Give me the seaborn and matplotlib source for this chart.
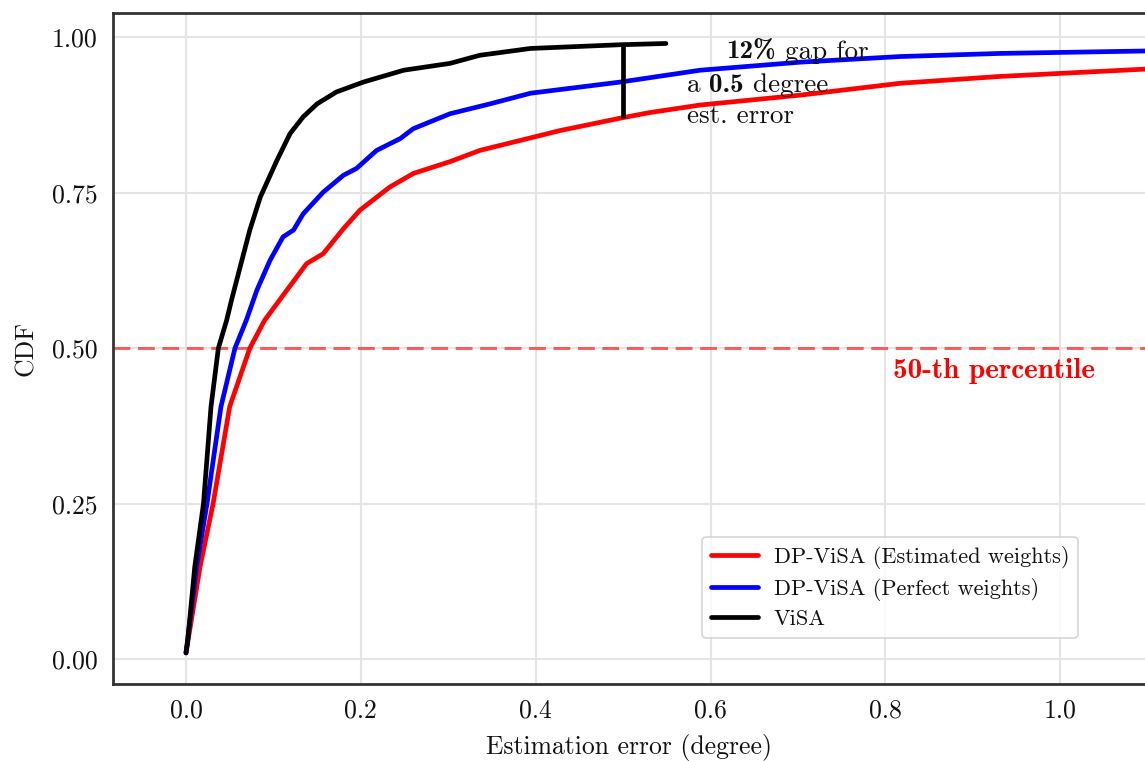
import numpy as np
import pandas as pd
import matplotlib
matplotlib.use("Agg")
import matplotlib.pyplot as plt
from matplotlib.transforms import offset_copy
import seaborn as sns

# ---- data ----
visa_x = [0.0, 0.002, 0.010, 0.020, 0.0286, 0.037, 0.0465, 0.052, 0.062, 0.073, 0.085,
          0.104, 0.119, 0.134, 0.150, 0.172, 0.203, 0.249, 0.302, 0.336, 0.394, 0.497, 0.549]
visa_y = [0.01, 0.03, 0.148, 0.25, 0.406, 0.50, 0.545, 0.577, 0.631, 0.690, 0.743,
          0.802, 0.845, 0.872, 0.893, 0.912, 0.928, 0.947, 0.958, 0.971, 0.982, 0.988, 0.990]

perf_x = [0.0, 0.012, 0.024, 0.040, 0.056, 0.069, 0.077, 0.081, 0.096, 0.111, 0.123, 0.134,
          0.157, 0.180, 0.195, 0.218, 0.245, 0.260, 0.302, 0.348, 0.394, 0.497, 0.588,
          0.703, 0.817, 0.931, 1.10]
perf_y = [0.01, 0.148, 0.25, 0.406, 0.50, 0.545, 0.577, 0.593, 0.641, 0.679, 0.690, 0.716,
          0.751, 0.778, 0.789, 0.818, 0.837, 0.853, 0.877, 0.893, 0.910, 0.928, 0.947,
          0.960, 0.969, 0.974, 0.978]

est_x = [0.0, 0.016, 0.031, 0.050, 0.073, 0.090, 0.111, 0.138, 0.157, 0.180, 0.199, 0.233,
         0.260, 0.302, 0.336, 0.428, 0.497, 0.531, 0.588, 0.703, 0.817, 0.931, 1.10]
est_y = [0.01, 0.148, 0.25, 0.406, 0.50, 0.545, 0.585, 0.636, 0.652, 0.692, 0.722, 0.759,
         0.781, 0.800, 0.818, 0.850, 0.870, 0.879, 0.891, 0.907, 0.926, 0.937, 0.949]

labels = ["DP-ViSA (Estimated weights)", "DP-ViSA (Perfect weights)", "ViSA"]
colors = ["red", "blue", "black"]
xticks = [0.0, 0.2, 0.4, 0.6, 0.8, 1.0]
yticks = [0.0, 0.25, 0.5, 0.75, 1.0]
gap_x = 0.5
gap_lo, gap_hi = 0.870, 0.988
percentile = 0.5

df = pd.concat([
    pd.DataFrame({"x": est_x, "cdf": est_y, "method": labels[0]}),
    pd.DataFrame({"x": perf_x, "cdf": perf_y, "method": labels[1]}),
    pd.DataFrame({"x": visa_x, "cdf": visa_y, "method": labels[2]}),
], ignore_index=True)

sns.set_style("white")
plt.rcParams["font.family"] = ["cmr10", "DejaVu Serif"]
plt.rcParams["mathtext.fontset"] = "cm"
plt.rcParams["axes.formatter.use_mathtext"] = True
plt.rcParams["axes.unicode_minus"] = False
plt.rcParams["text.color"] = "#111111"
plt.rcParams["axes.labelcolor"] = "#111111"
plt.rcParams["xtick.color"] = "#111111"
plt.rcParams["ytick.color"] = "#111111"

RM = ["cmr10", "DejaVu Serif"]
BF = ["cmb10", "DejaVu Serif"]

fig = plt.figure(figsize=(11.45, 7.61), dpi=100)
ax = fig.add_axes([0.0987, 0.1012, 0.9013, 0.8817])

sns.lineplot(data=df, x="x", y="cdf", hue="method", hue_order=labels,
             palette=dict(zip(labels, colors)), sort=False, estimator=None,
             linewidth=3.4, ax=ax)

ax.axhline(percentile, color="red", alpha=0.6, linestyle=(0, (5.5, 2.5)), linewidth=2.2, zorder=1)
ax.vlines(gap_x, gap_lo, gap_hi, color="black", linewidth=3.4)

renderer = fig.canvas.get_renderer()


def rich_line(x, y, parts, size):
    """Draw a line of text made of (string, family) parts placed side by side."""
    trans = ax.transData
    for s, fam in parts:
        t = ax.text(x, y, s, fontsize=size, va="baseline", ha="left",
                    family=fam, transform=trans)
        t.draw(renderer)
        ext = t.get_window_extent(renderer)
        trans = offset_copy(trans, fig=fig, x=ext.width * 72 / fig.dpi, y=0, units="points")


rich_line(0.618, 0.965, [("12%", BF), (" gap for", RM)], 19.5)
rich_line(0.573, 0.912, [("a ", RM), ("0.5", BF), (" degree", RM)], 19.5)
rich_line(0.573, 0.862, [("est. error", RM)], 19.5)
ax.text(0.809, 0.452, "50-th percentile", fontsize=21, va="baseline", ha="left",
        color="red", family=BF)

ax.set_xlim(-0.0835, 1.097)
ax.set_ylim(-0.040, 1.039)
ax.set_xticks(xticks)
ax.set_yticks(yticks)
ax.set_xticklabels([f"{v:.1f}" for v in xticks])
ax.set_yticklabels([f"{v:.2f}" for v in yticks])
ax.grid(True, color="#e5e5e5", linewidth=1.5)
ax.set_axisbelow(True)
ax.tick_params(axis="both", labelsize=18.5, length=5, width=1.5, color="#333333",
               direction="out", pad=6)
for s in ["left", "top", "bottom"]:
    ax.spines[s].set_color("#333333")
    ax.spines[s].set_linewidth(2)
ax.spines["right"].set_visible(False)

ax.set_xlabel("Estimation error (degree)", fontsize=18.5, labelpad=8)
ax.set_ylabel("CDF", fontsize=18.5, labelpad=10)

leg = ax.legend(loc="lower right", bbox_to_anchor=(0.935, 0.0686), fontsize=16,
                frameon=True, handlelength=2.1, handletextpad=0.7, labelspacing=0.4,
                borderpad=0.4, borderaxespad=0.0, fancybox=True, edgecolor="#cccccc")
leg.get_frame().set_linewidth(1.2)
for line in leg.get_lines():
    line.set_linewidth(3.4)

fig.savefig("out.png", dpi=100)
